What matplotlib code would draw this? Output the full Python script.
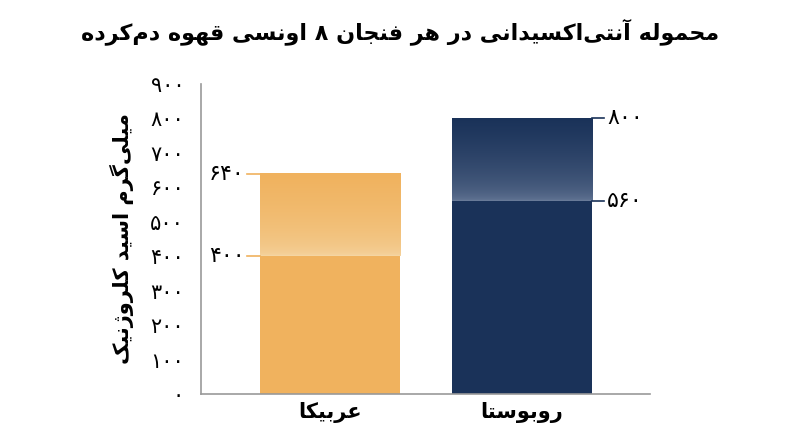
import unicodedata
import numpy as np
import matplotlib
matplotlib.use("Agg")
import matplotlib.pyplot as plt
from matplotlib.colors import LinearSegmentedColormap

categories = ["عربیکا", "روبوستا"]
totals = [640, 800]
bases = [400, 560]
yticks = [0, 100, 200, 300, 400, 500, 600, 700, 800, 900]
title = "محموله آنتی‌اکسیدانی در هر فنجان ۸ اونسی قهوه دم‌کرده"
ylabel = "میلی‌گرم اسید کلروژنیک"

RIGHT_ONLY = set("اآأإدذرزژوؤة")

def is_letter(c):
    return c is not None and unicodedata.category(c) in ("Lo",) and '\u0600' <= c <= '\u06FF'

def form(c, f):
    try:
        return unicodedata.lookup(unicodedata.name(c) + " " + f + " FORM")
    except Exception:
        return c

def shape(text):
    out = []
    n = len(text)
    for i, c in enumerate(text):
        if not is_letter(c):
            out.append(c); continue
        prev = text[i-1] if i > 0 else None
        nxt = text[i+1] if i < n-1 else None
        jp = is_letter(prev) and prev not in RIGHT_ONLY
        jn = is_letter(nxt) and c not in RIGHT_ONLY
        f = "MEDIAL" if jp and jn else "FINAL" if jp else "INITIAL" if jn else "ISOLATED"
        out.append(form(c, f))
    s = "".join(out).replace("\u200c", "")
    return s[::-1]

def fa(n):
    return str(n).translate(str.maketrans("0123456789", "۰۱۲۳۴۵۶۷۸۹"))

plt.rcParams['font.family'] = ['DejaVu Sans']
fig = plt.figure(figsize=(8, 4.47), dpi=100)
ax = fig.add_axes([0.251, 0.1186, 0.5615, 0.6935])
ax.set_xlim(-0.672, 1.667)
ax.set_ylim(0, 900)
for s in ("top", "right"):
    ax.spines[s].set_visible(False)
for s in ("left", "bottom"):
    ax.spines[s].set_color("#999999")
    ax.spines[s].set_linewidth(1.2)

cols = ["#F0B25E", "#1A3259"]
lights = ["#F5D6A4", "#6A7C9A"]
w = 0.729
xs = np.arange(len(categories))
for x, tot, b, c, l in zip(xs, totals, bases, cols, lights):
    ax.bar(x, b, width=w, color=c, zorder=2)
    cmap = LinearSegmentedColormap.from_list("g", [l, c])
    grad = np.linspace(0, 1, 100).reshape(-1, 1) ** 0.45
    ax.imshow(grad, cmap=cmap, aspect="auto", origin="lower",
              extent=(x - w/2, x + w/2, b, tot), zorder=2)

for v in (totals[0], bases[0]):
    ax.plot([-w/2 - 0.065, -w/2], [v, v], color=cols[0], lw=1.2, clip_on=False)
    ax.text(-w/2 - 0.08, v, fa(v), ha="right", va="center", fontsize=16)
for v in (totals[1], bases[1]):
    ax.plot([1 + w/2, 1 + w/2 + 0.065], [v, v], color=cols[1], lw=1.2, clip_on=False)
    ax.text(1 + w/2 + 0.08, v, fa(v), ha="left", va="center", fontsize=16)

ax.set_yticks(yticks)
ax.set_yticklabels([fa(v) for v in yticks], fontsize=15)
ax.tick_params(axis="y", length=0, pad=12)
ax.set_xticks(xs)
ax.set_xticklabels([shape(c) for c in categories], fontsize=15, fontweight="bold")
ax.tick_params(axis="x", length=0, pad=6)
ax.set_ylabel(shape(ylabel), fontsize=15, fontweight="bold", labelpad=12)
fig.text(0.5, 0.93, shape(title), ha="center", va="center", fontsize=16, fontweight="bold")
fig.savefig("out.png", dpi=100)
